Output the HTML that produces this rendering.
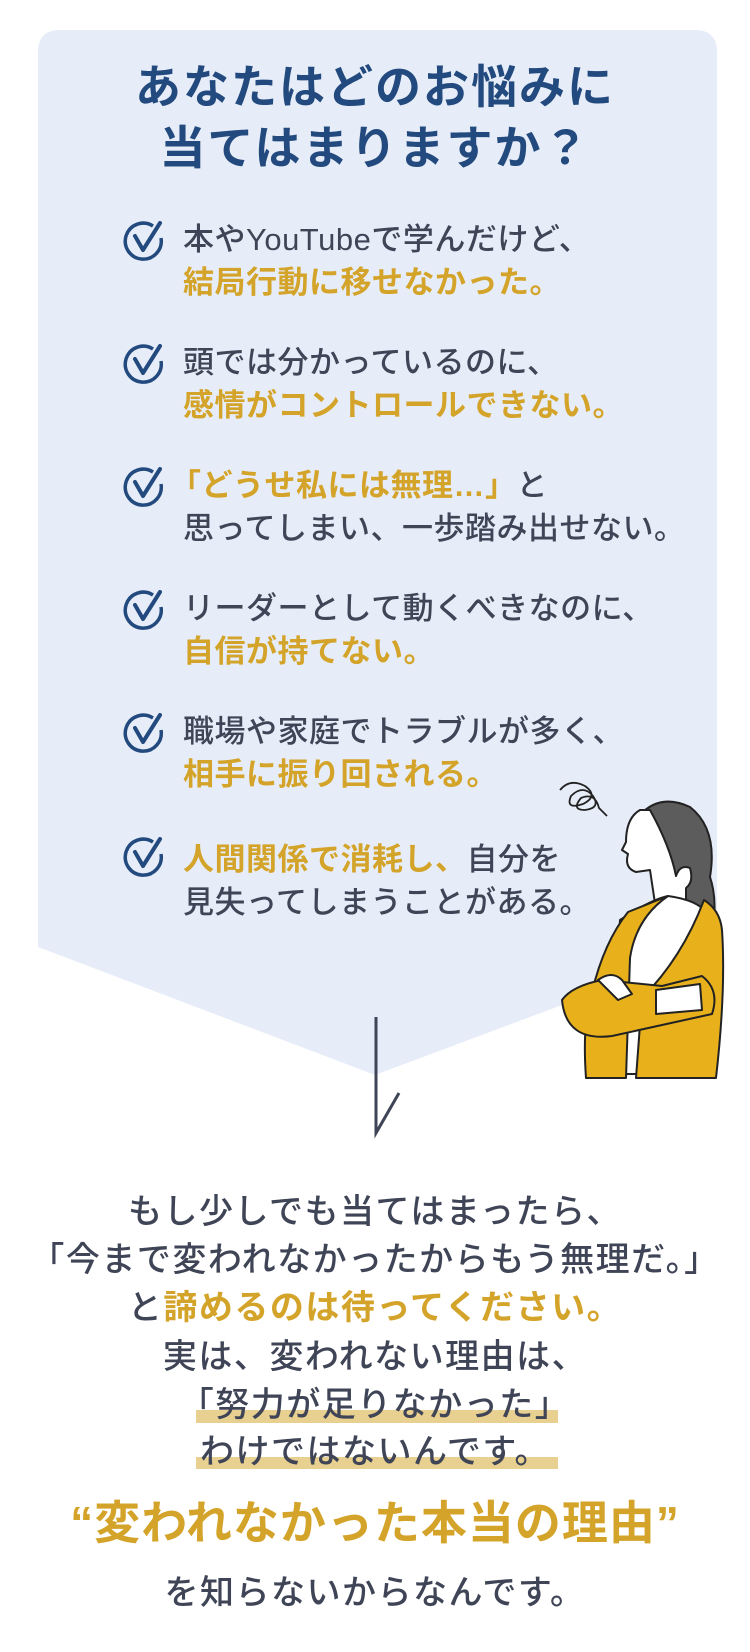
<!DOCTYPE html>
<html><head><meta charset="utf-8"><style>
*{margin:0;padding:0;box-sizing:border-box}
body{width:750px;height:1652px;background:#fff;position:relative;overflow:hidden;font-family:"Liberation Sans","Noto Sans CJK JP",sans-serif}
svg.bg{position:absolute;left:0;top:0}
.t{position:absolute;white-space:nowrap}
.title{left:0;width:750px;text-align:center;color:#234a7e;font-weight:bold;font-size:46px;line-height:62px;letter-spacing:2px}
.it{left:183px;font-size:31px;line-height:43px;color:#3f4556;font-weight:500;letter-spacing:0.5px}
.g{color:#d4a42a;font-weight:bold}
.b{left:0;width:750px;text-align:center;font-size:34px;line-height:48px;color:#3f4556;font-weight:500;letter-spacing:1.5px}
.ck{position:absolute;left:123px;width:43px;height:43px}
</style></head><body>
<svg class="bg" width="750" height="1652" viewBox="0 0 750 1652">
<path d="M38 52 Q38 30 60 30 L695 30 Q717 30 717 52 L717 947 L375 1075 L38 947 Z" fill="#e7edf8"/>
<path d="M376 1017 L376 1133 L399 1093" fill="none" stroke="#3f4556" stroke-width="3"/>
<rect x="196" y="1410" width="362" height="13" fill="#e8d190"/>
<rect x="196" y="1457" width="362" height="12" fill="#e8d190"/>
<g stroke="#222" stroke-width="2" stroke-linejoin="round">
<path d="M560 790 q10 -12 25 -4 q14 10 -2 18 q-18 6 -12 -8 q12 -12 22 0 q8 12 -8 14 q-14 0 -4 -12 q14 -6 18 10 l8 8" fill="none" stroke-width="1.8"/>
<path d="M640 815 q20 -22 50 -8 q28 22 20 70 q10 30 -2 70 l-22 4 q-20 -40 -30 -90 z" fill="#5c5c5c"/>
<path d="M640 810 q-14 8 -14 32 l-4 8 l6 4 q-4 14 8 18 l14 -2 l6 40 l30 8 l0 -30 q8 -6 4 -20 q-10 -4 -14 8 q-6 -30 -26 -66 z" fill="#fff"/>
<path d="M620 920 q30 -20 48 -24 q30 4 40 18 q12 60 4 160 l-102 0 z" fill="#fff"/>
<path d="M668 896 l-40 16 q-24 30 -36 80 q-10 30 -6 86 l40 0 l4 -120 q6 -40 38 -62 z" fill="#e8b11c"/>
<path d="M704 900 q16 10 18 30 q4 60 -6 148 l-80 0 l6 -80 q40 -40 62 -98 z" fill="#e8b11c"/>
<path d="M562 1000 q10 -14 40 -20 l60 6 l40 -10 q18 14 10 38 l-100 22 q-46 6 -50 -36 z" fill="#e8b11c"/>
<path d="M598 980 q14 -10 24 0 l10 14 l-14 6 z" fill="#fff"/>
<path d="M656 990 l44 -6 l2 26 l-46 4 z" fill="#fff"/>
</g>
</svg>
<div class="t title" style="top:56px">あなたはどのお悩みに</div>
<div class="t title" style="top:117px">当てはまりますか？</div>

<svg class="ck" style="top:218px" viewBox="0 0 43 43"><path d="M30 8 A18 18 0 1 0 38 20" fill="none" stroke="#234a7e" stroke-width="3.5"/><path d="M12 18 L20 32 L37 5" fill="none" stroke="#234a7e" stroke-width="4" stroke-linecap="round" stroke-linejoin="round"/></svg>
<div class="t it" style="top:218px">本やYouTubeで学んだけど、<br><span class="g">結局行動に移せなかった。</span></div>

<svg class="ck" style="top:341px" viewBox="0 0 43 43"><path d="M30 8 A18 18 0 1 0 38 20" fill="none" stroke="#234a7e" stroke-width="3.5"/><path d="M12 18 L20 32 L37 5" fill="none" stroke="#234a7e" stroke-width="4" stroke-linecap="round" stroke-linejoin="round"/></svg>
<div class="t it" style="top:341px">頭では分かっているのに、<br><span class="g">感情がコントロールできない。</span></div>

<svg class="ck" style="top:464px" viewBox="0 0 43 43"><path d="M30 8 A18 18 0 1 0 38 20" fill="none" stroke="#234a7e" stroke-width="3.5"/><path d="M12 18 L20 32 L37 5" fill="none" stroke="#234a7e" stroke-width="4" stroke-linecap="round" stroke-linejoin="round"/></svg>
<div class="t it" style="top:464px;left:170px"><span class="g">「どうせ私には無理…」</span>と<br><span style="margin-left:13px">思ってしまい、一歩踏み出せない。</span></div>

<svg class="ck" style="top:587px" viewBox="0 0 43 43"><path d="M30 8 A18 18 0 1 0 38 20" fill="none" stroke="#234a7e" stroke-width="3.5"/><path d="M12 18 L20 32 L37 5" fill="none" stroke="#234a7e" stroke-width="4" stroke-linecap="round" stroke-linejoin="round"/></svg>
<div class="t it" style="top:587px">リーダーとして動くべきなのに、<br><span class="g">自信が持てない。</span></div>

<svg class="ck" style="top:710px" viewBox="0 0 43 43"><path d="M30 8 A18 18 0 1 0 38 20" fill="none" stroke="#234a7e" stroke-width="3.5"/><path d="M12 18 L20 32 L37 5" fill="none" stroke="#234a7e" stroke-width="4" stroke-linecap="round" stroke-linejoin="round"/></svg>
<div class="t it" style="top:710px">職場や家庭でトラブルが多く、<br><span class="g">相手に振り回される。</span></div>

<svg class="ck" style="top:834px" viewBox="0 0 43 43"><path d="M30 8 A18 18 0 1 0 38 20" fill="none" stroke="#234a7e" stroke-width="3.5"/><path d="M12 18 L20 32 L37 5" fill="none" stroke="#234a7e" stroke-width="4" stroke-linecap="round" stroke-linejoin="round"/></svg>
<div class="t it" style="top:838px"><span class="g">人間関係で消耗し、</span>自分を<br>見失ってしまうことがある。</div>

<div class="t b" style="top:1188px">もし少しでも当てはまったら、</div>
<div class="t b" style="top:1236px">「今まで変われなかったからもう無理だ。」</div>
<div class="t b" style="top:1284px">と<span class="g">諦めるのは待ってください。</span></div>
<div class="t b" style="top:1333px">実は、変われない理由は、</div>
<div class="t b" style="top:1381px">「努力が足りなかった」</div>
<div class="t b" style="top:1428px">わけではないんです。</div>
<div class="t b" style="top:1494px;font-size:46px;line-height:58px;color:#d4a42a;font-weight:bold;letter-spacing:1px">“変われなかった本当の理由”</div>
<div class="t b" style="top:1569px">を知らないからなんです。</div>
</body></html>
